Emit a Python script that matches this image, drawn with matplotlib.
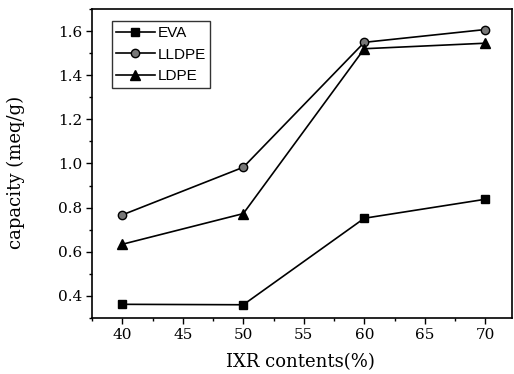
import matplotlib
matplotlib.use("Agg")
import matplotlib.pyplot as plt
from matplotlib.ticker import MultipleLocator

x = [40, 50, 60, 70]
eva = [0.362, 0.360, 0.752, 0.838]
lldpe = [0.767, 0.983, 1.549, 1.607]
ldpe = [0.634, 0.773, 1.520, 1.545]
series_names = ["EVA", "LLDPE", "LDPE"]

fig = plt.figure(figsize=(5.14, 3.74), dpi=100)
ax = fig.add_axes([92/514, 1-318/374, (512-92)/514, (318-9)/374])

serif = "DejaVu Serif"
ax.plot(x, eva, "-s", color="black", lw=1.2, ms=6, label=series_names[0])
ax.plot(x, lldpe, "-o", color="black", lw=1.2, ms=6, mfc="#777777", mec="black", label=series_names[1])
ax.plot(x, ldpe, "-^", color="black", lw=1.2, ms=6.5, label=series_names[2])

ax.set_xlim(37.5, 72.2)
ax.set_ylim(0.3, 1.7)
ax.xaxis.set_major_locator(MultipleLocator(5))
ax.xaxis.set_minor_locator(MultipleLocator(2.5))
ax.yaxis.set_minor_locator(MultipleLocator(0.1))
ax.set_yticks([0.4, 0.6, 0.8, 1.0, 1.2, 1.4, 1.6])
ax.set_yticklabels(["0.4", "0.6", "0.8", "1.0", "1.2", "1.4", "1.6"])
ax.tick_params(which="major", direction="out", length=4, width=1, labelsize=11, pad=3)
ax.tick_params(which="minor", direction="out", length=2.5, width=1)
for lab in ax.get_xticklabels() + ax.get_yticklabels():
    lab.set_fontfamily(serif)
for s in ax.spines.values():
    s.set_linewidth(1.2)

fig.text(300/514, 1-362/374, "IXR contents(%)", fontsize=13, family=serif,
         ha="center", va="center")
fig.text(16/514, 1-172/374, "capacity (meq/g)", fontsize=13, family=serif,
         ha="center", va="center", rotation=90)

leg = ax.legend(loc="upper left", bbox_to_anchor=(0.047, 0.96), frameon=True, fancybox=False,
                edgecolor="black", handlelength=2.5, handletextpad=0.2,
                labelspacing=0.5, borderpad=0.3, borderaxespad=0.0,
                prop={"family": "Liberation Sans", "size": 11})
leg.get_frame().set_linewidth(1.0)

fig.savefig("out.png", dpi=100)
